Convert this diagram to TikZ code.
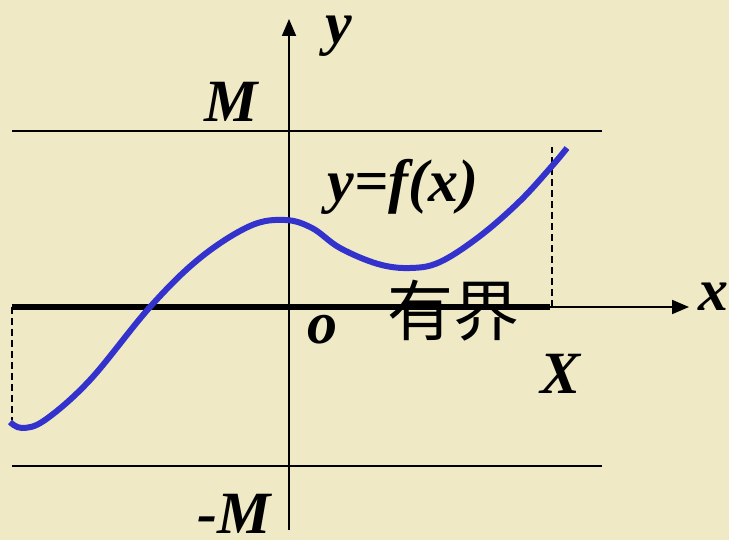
\documentclass[tikz,border=0pt]{standalone}
\usepackage{fontspec}
\setmainfont{Liberation Serif}
\newfontfamily\cjk{Noto Sans CJK SC}
\usetikzlibrary{arrows.meta}
\definecolor{bg}{RGB}{239,234,197}
\definecolor{curveblue}{RGB}{52,50,205}
\tikzset{
  lbl/.style={font=\fontsize{60}{60}\selectfont\bfseries\itshape, inner sep=0pt},
  thinline/.style={line width=1.6pt, black},
  axis/.style={line width=1.8pt, black, -{Triangle[length=17pt,width=14pt]}},
  dashline/.style={line width=2pt, black, dash pattern=on 7pt off 4pt},
}
\begin{document}
\begin{tikzpicture}[x=1pt,y=-1pt]
\fill[bg] (0,0) rectangle (729,540);
\useasboundingbox (0,0) rectangle (729,540);
% bounds
\draw[thinline] (12,131) -- (602,131);
\draw[thinline] (12,466) -- (602,466);
% axes
\draw[axis] (12,307) -- (689,307);
\draw[axis] (289,530) -- (289,19);
\draw[line width=6pt, black] (12,307) -- (550,307);
% dashed
\draw[dashline] (12,307) -- (12,420);
\draw[dashline] (552,307) -- (552,147);
% curve
\draw[curveblue, line width=6pt, line cap=butt] plot[smooth, tension=0.6] coordinates {
 (10,422) (22,428) (45,420) (90,380) (150,307) (200,258) (250,226) (285,220) (312,228)
 (340,248) (378,264) (410,268) (440,262) (480,236) (520,201) (552,166) (567,148)};
% labels
\node[lbl] (ly) at (339,36) {y};
\node[lbl] (lM) at (231,102) {M};
\node[lbl] (lmM) at (234,514) {-M};
\node[lbl] (lf) at (403,187) {y=f(x)};
\node[lbl] (lo) at (322,330) {o};
\node[font=\fontsize{66}{66}\selectfont\cjk, inner sep=0pt] (lb) at (453,311) {有界};
\node[lbl] (lX) at (561,374) {X};
\node[lbl] (lx) at (713,297) {x};
\end{tikzpicture}
\end{document}
